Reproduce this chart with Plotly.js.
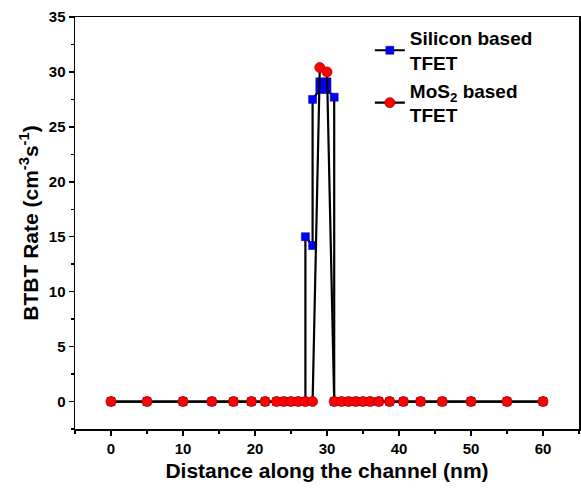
<!DOCTYPE html>
<html>
<head>
<meta charset="utf-8">
<script src="https://cdn.plot.ly/plotly-3.0.1.min.js"></script>
<style>html,body{margin:0;padding:0;background:#fff;}#chart{width:581px;height:494px;}</style>
</head>
<body>
<div id="chart"></div>
<script>
const siX = [0,5,10,14,17,19.5,21.4,23,24,25,26,27,27,28,28,29,29,30,30,31,31,32,33,34,35,36,37.2,38.7,40.6,43,46,50,55,60];
const siY = [0,0,0,0,0,0,0,0,0,0,0,0,15,14.2,27.5,28.4,29.1,29.1,28.4,27.7,0,0,0,0,0,0,0,0,0,0,0,0,0,0];
const mosX = [0,5,10,14,17,19.5,21.4,23,24,25,26,27,28,29,30,31,32,33,34,35,36,37.2,38.7,40.6,43,46,50,55,60];
const mosY = [0,0,0,0,0,0,0,0,0,0,0,0,0,30.4,30.0,0,0,0,0,0,0,0,0,0,0,0,0,0,0];
const names = ['Silicon based<br>TFET', 'MoS<sub>2</sub> based<br>TFET'];

const font = {family: 'Liberation Sans, Arial, sans-serif', color: '#000'};
const traces = [
  {x: siX, y: siY, name: names[0], mode: 'lines+markers', type: 'scatter',
   line: {color: '#000', width: 2.2},
   marker: {symbol: 'square', size: 8, color: '#0000ff', line: {color: '#00008b', width: 0.5}}},
  {x: mosX, y: mosY, name: names[1], mode: 'lines+markers', type: 'scatter',
   line: {color: '#000', width: 2.2},
   marker: {symbol: 'circle', size: 10, color: '#ff0000', line: {color: '#b00000', width: 0.8}}}
];
const axisCommon = {
  showline: true, linecolor: '#000', linewidth: 1.5, mirror: true,
  ticks: 'outside', ticklen: 5, tickwidth: 1.5, tickcolor: '#000',
  showgrid: false, zeroline: false,
  tickfont: Object.assign({}, font, {size: 15, weight: 'bold'})
};
const layout = {
  width: 581, height: 494,
  margin: {l: 75, r: 2, t: 17, b: 65},
  paper_bgcolor: '#fff', plot_bgcolor: '#fff',
  showlegend: true,
  legend: {x: 0.585, y: 0.995, xanchor: 'left', yanchor: 'top', bgcolor: 'rgba(0,0,0,0)',
    font: Object.assign({}, font, {size: 19, weight: 'bold'}), tracegroupgap: 0},
  xaxis: Object.assign({}, axisCommon, {
    range: [-5, 65], dtick: 10, tick0: 0,
    minor: {dtick: 5, ticklen: 3, tickwidth: 1.5, ticks: 'outside', tickcolor: '#000'},
    title: {text: 'Distance along the channel (nm)', standoff: 8,
      font: Object.assign({}, font, {size: 21, weight: 'bold'})}
  }),
  yaxis: Object.assign({}, axisCommon, {
    range: [-2.5, 35], dtick: 5, tick0: 0,
    minor: {dtick: 2.5, ticklen: 3, tickwidth: 1.5, ticks: 'outside', tickcolor: '#000'},
    title: {text: 'BTBT Rate (cm<sup>-3</sup>s<sup>-1</sup>)', standoff: 4,
      font: Object.assign({}, font, {size: 21, weight: 'bold'})}
  })
};
Plotly.newPlot('chart', traces, layout, {displayModeBar: false, staticPlot: true});
</script>
</body>
</html>
